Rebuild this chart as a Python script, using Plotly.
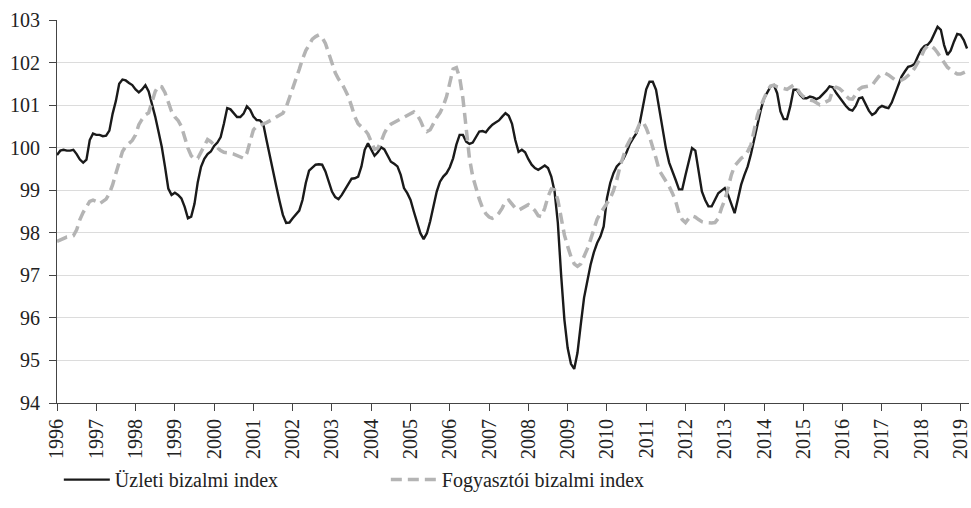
import plotly.graph_objects as go

year_ticks = [str(y) for y in range(1996, 2020)]
y_ticks = list(range(94, 104))

uzleti = [
    99.83, 99.93, 99.95, 99.93, 99.93, 99.95, 99.85, 99.72, 99.65, 99.72, 100.18, 100.33,
    100.30, 100.30, 100.27, 100.28, 100.40, 100.80, 101.10, 101.50, 101.60, 101.58, 101.52, 101.47,
    101.37, 101.30, 101.37, 101.47, 101.32, 101.04, 100.73, 100.38, 100.02, 99.55, 99.04, 98.89,
    98.94, 98.89, 98.81, 98.61, 98.34, 98.38, 98.68, 99.19, 99.55, 99.74, 99.85, 99.91,
    100.04, 100.12, 100.25, 100.57, 100.93, 100.90, 100.80, 100.72, 100.72, 100.80, 100.97, 100.89,
    100.73, 100.65, 100.64, 100.56, 100.18, 99.79, 99.44, 99.09, 98.74, 98.42, 98.23, 98.24,
    98.34, 98.42, 98.52, 98.77, 99.17, 99.46, 99.52, 99.60, 99.61, 99.60, 99.44, 99.20,
    98.97, 98.84, 98.79, 98.89, 99.01, 99.13, 99.27, 99.28, 99.32, 99.56, 99.95, 100.10,
    99.96, 99.81, 99.89, 100.01, 99.96, 99.81, 99.67, 99.62, 99.56, 99.36, 99.05, 98.93,
    98.77, 98.50, 98.24, 97.99, 97.85, 97.99, 98.27, 98.66, 98.97, 99.20, 99.32, 99.40,
    99.54, 99.75, 100.07, 100.30, 100.30, 100.14, 100.09, 100.12, 100.26, 100.38, 100.39, 100.36,
    100.46, 100.54, 100.59, 100.64, 100.73, 100.81, 100.75, 100.56, 100.18, 99.90, 99.95, 99.89,
    99.73, 99.60, 99.52, 99.48, 99.53, 99.58, 99.52, 99.32, 98.97, 98.23, 97.01, 95.96,
    95.29, 94.92, 94.80, 95.18, 95.84, 96.47, 96.86, 97.25, 97.54, 97.76, 97.91, 98.15,
    98.81, 99.17, 99.40, 99.56, 99.64, 99.73, 99.89, 100.09, 100.22, 100.34, 100.57, 101.00,
    101.37, 101.55, 101.55, 101.36, 100.89, 100.42, 99.99, 99.65, 99.46, 99.24, 99.02, 99.02,
    99.36, 99.71, 99.99, 99.93, 99.48, 98.97, 98.77, 98.62, 98.62, 98.77, 98.93, 98.99,
    99.05, 98.89, 98.68, 98.46, 98.79, 99.13, 99.36, 99.56, 99.85, 100.20, 100.54, 100.89,
    101.16, 101.32, 101.44, 101.47, 101.28, 100.85, 100.67, 100.67, 100.97, 101.36, 101.36, 101.24,
    101.16, 101.16, 101.20, 101.18, 101.14, 101.18, 101.25, 101.34, 101.44, 101.42, 101.29, 101.18,
    101.08, 100.98, 100.90, 100.87, 100.98, 101.16, 101.18, 101.03, 100.87, 100.77, 100.82, 100.93,
    100.98, 100.95, 100.93, 101.06, 101.26, 101.45, 101.67, 101.79, 101.90, 101.92, 101.97, 102.15,
    102.30, 102.39, 102.42, 102.51, 102.69, 102.84, 102.77, 102.41, 102.18, 102.28, 102.49, 102.67,
    102.65, 102.53, 102.33,
]

fogyasztoi = [
    97.80, 97.84, 97.87, 97.90, 97.91, 97.93, 98.07, 98.31, 98.48, 98.62, 98.74, 98.77,
    98.74, 98.68, 98.74, 98.79, 98.92, 99.13, 99.40, 99.67, 99.91, 100.03, 100.10, 100.17,
    100.30, 100.54, 100.67, 100.77, 100.82, 101.04, 101.32, 101.45, 101.43, 101.29, 101.08, 100.85,
    100.72, 100.64, 100.50, 100.22, 99.99, 99.81, 99.73, 99.75, 99.89, 100.04, 100.19, 100.14,
    100.07, 99.99, 99.93, 99.89, 99.89, 99.87, 99.85, 99.81, 99.78, 99.75, 99.87, 100.18,
    100.42, 100.50, 100.54, 100.56, 100.59, 100.62, 100.67, 100.72, 100.77, 100.81, 100.95, 101.16,
    101.40, 101.63, 101.84, 102.08, 102.28, 102.41, 102.55, 102.61, 102.65, 102.59, 102.45, 102.22,
    101.98, 101.76, 101.61, 101.51, 101.36, 101.20, 100.97, 100.72, 100.56, 100.50, 100.42, 100.32,
    100.14, 99.96, 99.99, 100.14, 100.34, 100.48, 100.55, 100.59, 100.64, 100.68, 100.73, 100.76,
    100.81, 100.84, 100.77, 100.64, 100.46, 100.38, 100.42, 100.57, 100.71, 100.82, 100.98, 101.20,
    101.55, 101.85, 101.88, 101.65, 101.16, 100.46, 99.75, 99.32, 99.02, 98.79, 98.58, 98.45,
    98.37, 98.34, 98.38, 98.46, 98.58, 98.74, 98.77, 98.68, 98.58, 98.53, 98.58, 98.62,
    98.66, 98.60, 98.52, 98.40, 98.38, 98.58, 98.85, 99.03, 99.01, 98.77, 98.38, 97.95,
    97.68, 97.44, 97.27, 97.21, 97.27, 97.43, 97.62, 97.84, 98.11, 98.32, 98.46, 98.58,
    98.70, 98.81, 98.99, 99.24, 99.56, 99.83, 100.03, 100.18, 100.30, 100.38, 100.57, 100.61,
    100.46, 100.26, 100.03, 99.75, 99.46, 99.34, 99.23, 99.09, 98.93, 98.74, 98.46, 98.31,
    98.24, 98.34, 98.40, 98.37, 98.31, 98.26, 98.24, 98.23, 98.23, 98.24, 98.34, 98.58,
    98.77, 99.05, 99.36, 99.57, 99.67, 99.75, 99.80, 99.91, 100.07, 100.38, 100.77, 100.98,
    101.18, 101.34, 101.45, 101.47, 101.43, 101.41, 101.39, 101.37, 101.42, 101.47, 101.40, 101.28,
    101.20, 101.15, 101.12, 101.10, 101.06, 101.01, 101.04, 101.08, 101.12, 101.36, 101.42, 101.39,
    101.32, 101.22, 101.15, 101.14, 101.26, 101.37, 101.42, 101.43, 101.43, 101.46, 101.57, 101.67,
    101.73, 101.75, 101.71, 101.66, 101.59, 101.58, 101.59, 101.63, 101.69, 101.76, 101.87, 102.00,
    102.14, 102.31, 102.40, 102.39, 102.33, 102.23, 102.12, 102.00, 101.89, 101.83, 101.77, 101.73,
    101.73, 101.76, 101.80,
]

# month index since January 1996
months = list(range(len(uzleti)))
year_positions = [12 * i for i in range(len(year_ticks))]

FONT = "Liberation Serif"

fig = go.Figure()
fig.add_trace(go.Scatter(
    x=months, y=uzleti, mode="lines", name="Üzleti bizalmi index",
    line=dict(color="#1a1a1a", width=2.4),
))
fig.add_trace(go.Scatter(
    x=months[:len(fogyasztoi)], y=fogyasztoi, mode="lines", name="Fogyasztói bizalmi index",
    line=dict(color="#b4b4b4", width=3.5, dash="11px,6px"),
))

fig.update_layout(
    width=971, height=508,
    margin=dict(l=57, r=2, t=20, b=105, autoexpand=False),
    paper_bgcolor="white", plot_bgcolor="white",
    font=dict(family=FONT, size=20, color="#222"),
    showlegend=True,
    legend=dict(
        orientation="h", x=0.002, xanchor="left", y=-0.2, yanchor="middle",
        font=dict(family=FONT, size=20, color="#222"),
        entrywidth=266, itemwidth=46,
        traceorder="normal",
    ),
    xaxis=dict(
        range=[0, 278.6],
        tickvals=year_positions,
        ticktext=year_ticks,
        tickangle=-90,
        ticks="outside", ticklen=7, tickcolor="#444", tickwidth=1.2,
        showline=True, linecolor="#444", linewidth=1.2,
        showgrid=False, zeroline=False, automargin=False,
        tickfont=dict(family=FONT, size=20, color="#222"),
    ),
    yaxis=dict(
        range=[94, 103],
        tickvals=y_ticks,
        ticks="outside", ticklen=7, tickcolor="#444", tickwidth=1.2,
        showline=True, linecolor="#444", linewidth=1.2,
        showgrid=True, gridcolor="#dcdcdc", gridwidth=1.3,
        zeroline=False, automargin=False, ticklabelstandoff=5,
        tickfont=dict(family=FONT, size=20, color="#222"),
    ),
)

fig.write_html(
    "out.html",
    config={"displayModeBar": False},
    post_script="document.body.style.margin='0';document.body.style.overflow='hidden';",
)
